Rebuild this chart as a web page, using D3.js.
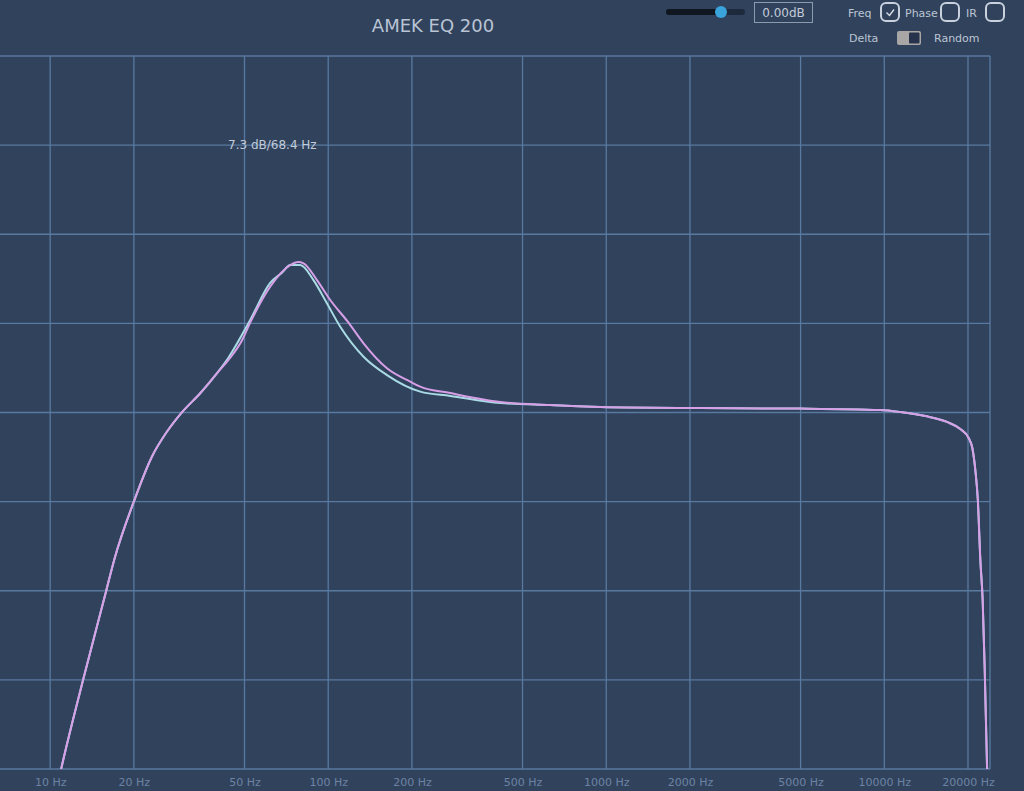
<!DOCTYPE html>
<html><head><meta charset="utf-8">
<script src="https://cdn.jsdelivr.net/npm/d3@7"></script>
<style>
html,body{margin:0;padding:0;background:#31425d;overflow:hidden;}
svg{display:block;}
text{font-family:"DejaVu Sans",Verdana,sans-serif;}
</style></head>
<body>
<svg id="chart" width="1024" height="791"></svg>
<script>
// ---- data ----
const title = "AMEK EQ 200";
const readout = "7.3 dB/68.4 Hz";
const xTicks = [10, 20, 50, 100, 200, 500, 1000, 2000, 5000, 10000, 20000];
const xTickLabels = ["10 Hz","20 Hz","50 Hz","100 Hz","200 Hz","500 Hz","1000 Hz","2000 Hz","5000 Hz","10000 Hz","20000 Hz"];
const yGrid = [-15, -10, -5, 0, 5, 10, 15];

// pink series (frequency Hz, gain dB)
const pinkFreq = [10.6, 10.93, 13.11, 15.90, 16.99, 19.93, 23.22, 26.29, 29.77, 34.64, 39.78, 43.80, 49.05, 52.41, 61.84, 72.99, 78.0, 81.5, 91.1, 101.7, 118.3, 134.0, 162.7, 197.2, 214.3, 274.8, 415.6, 629, 951.5, 2178, 4987, 9674, 11418, 14046, 16809, 18770, 20107, 20733, 21255, 21700, 22155, 22583, 22960, 23420, 23800];
const pinkDb   = [-21.0, -20.06, -15.05, -10.01, -8.27, -5.06, -2.48, -1.08, 0.01, 1.08, 2.20, 2.95, 4.07, 5.04, 7.06, 8.27, 8.44, 8.37, 7.43, 6.31, 5.04, 3.88, 2.48, 1.73, 1.45, 1.09, 0.59, 0.42, 0.31, 0.25, 0.22, 0.14, 0.03, -0.20, -0.53, -0.93, -1.43, -1.99, -3.23, -4.91, -8.27, -10.52, -14.26, -19.87, -23.0];

// cyan series (frequency Hz, gain dB)
const cyanFreq = [10.6, 10.93, 13.11, 15.90, 16.99, 19.93, 23.22, 26.29, 29.77, 34.64, 39.78, 43.69, 52.41, 61.84, 68.17, 72.99, 79.3, 88.5, 98.9, 110.5, 134.0, 162.7, 214.3, 274.8, 415.6, 629, 951.5, 2178, 4987, 9674, 11418, 14046, 16809, 18770, 20107, 20733, 21255, 21700, 22155, 22583, 22960, 23420, 23800];
const cyanDb   = [-21.0, -20.06, -15.05, -10.01, -8.27, -5.06, -2.48, -1.08, 0.01, 1.08, 2.20, 3.06, 5.19, 7.27, 7.84, 8.27, 8.27, 7.43, 6.13, 4.81, 3.13, 2.10, 1.17, 0.93, 0.53, 0.42, 0.31, 0.25, 0.22, 0.14, 0.03, -0.20, -0.53, -0.93, -1.43, -1.99, -3.23, -4.91, -8.27, -10.52, -14.26, -19.87, -23.0];

// ---- chart ----
const svg = d3.select("#chart");
const pL = 0, pR = 990, pT = 56, pB = 769;
const x = d3.scaleLog().domain([6.6, 24000]).range([pL, pR]);
const y = d3.scaleLinear().domain([-20, 20]).range([pB, pT]);
const gridColor = "#587aa0";

svg.append("defs").append("clipPath").attr("id","plotclip")
  .append("rect").attr("x",pL).attr("y",pT).attr("width",pR-pL).attr("height",pB-pT);

const grid = svg.append("g");
grid.selectAll("line.h").data([20, ...yGrid]).enter().append("line")
  .attr("x1", pL).attr("x2", pR)
  .attr("y1", d => y(d)).attr("y2", d => y(d))
  .attr("stroke", gridColor).attr("stroke-width", 1.3);
grid.selectAll("line.v").data(xTicks).enter().append("line")
  .attr("x1", d => x(d)).attr("x2", d => x(d))
  .attr("y1", pT).attr("y2", pB)
  .attr("stroke", gridColor).attr("stroke-width", 1.3);
grid.append("line").attr("x1", pR).attr("x2", pR).attr("y1", pT).attr("y2", pB)
  .attr("stroke", gridColor).attr("stroke-width", 1.3);

const xAxis = d3.axisBottom(x).tickValues(xTicks)
  .tickFormat((d,i) => xTickLabels[i]).tickSize(0).tickPadding(9);
const ax = svg.append("g").attr("transform", `translate(0,${pB})`).call(xAxis);
ax.select(".domain").attr("stroke", gridColor).attr("stroke-width", 1.3).attr("d", `M${pL},0H${pR}`);
ax.selectAll("text").attr("fill", "#6c84a3").attr("font-size", 11)
  .attr("font-family", '"DejaVu Sans",Verdana,sans-serif');

const line = d3.line().x(d => x(d[0])).y(d => y(d[1])).curve(d3.curveMonotoneX);
const plot = svg.append("g").attr("clip-path","url(#plotclip)");
plot.append("path").datum(cyanFreq.map((f,i)=>[f,cyanDb[i]]))
  .attr("d", line).attr("fill","none").attr("stroke","#a9dbe4").attr("stroke-width",2);
plot.append("path").datum(pinkFreq.map((f,i)=>[f,pinkDb[i]]))
  .attr("d", line).attr("fill","none").attr("stroke","#d69fe6").attr("stroke-width",2);

svg.append("text").attr("x", 228).attr("y", 149).text(readout)
  .attr("fill", "#c2cbd8").attr("font-size", 12);

svg.append("text").attr("x", 433).attr("y", 32).attr("text-anchor","middle").text(title)
  .attr("fill", "#b9c4d4").attr("font-size", 18);

const ctl = svg.append("g");
ctl.append("rect").attr("x",666).attr("y",9).attr("width",79).attr("height",6).attr("rx",3).attr("fill","#1e2a3b");
ctl.append("rect").attr("x",666).attr("y",9).attr("width",55).attr("height",6).attr("rx",3).attr("fill","#10161f");
ctl.append("circle").attr("cx",721).attr("cy",12).attr("r",6).attr("fill","#3ba3dc");
ctl.append("rect").attr("x",754.5).attr("y",2.5).attr("width",58).attr("height",20)
  .attr("fill","none").attr("stroke","#8c9aae").attr("stroke-width",1);
ctl.append("text").attr("x",783.5).attr("y",17).attr("text-anchor","middle").text("0.00dB")
  .attr("fill","#c3ccd8").attr("font-size",12);

const labelColor = "#bcc6d3";
ctl.append("text").attr("x",848).attr("y",17).text("Freq").attr("fill",labelColor).attr("font-size",11);
ctl.append("text").attr("x",905).attr("y",17).text("Phase").attr("fill",labelColor).attr("font-size",11);
ctl.append("text").attr("x",966).attr("y",17).text("IR").attr("fill",labelColor).attr("font-size",11);
[881, 941, 986].forEach(cx => {
  ctl.append("rect").attr("x",cx).attr("y",3).attr("width",18).attr("height",18).attr("rx",5)
    .attr("fill","none").attr("stroke","#c8d1dd").attr("stroke-width",2);
});
ctl.append("path").attr("d","M886.5,12.5 L889.5,15.5 L894,9.5").attr("fill","none")
  .attr("stroke","#d8dee8").attr("stroke-width",1.4);

ctl.append("text").attr("x",849).attr("y",42).text("Delta").attr("fill",labelColor).attr("font-size",11);
ctl.append("rect").attr("x",897).attr("y",31).attr("width",24).attr("height",14).attr("rx",2).attr("fill","#a9a7a6");
ctl.append("rect").attr("x",909).attr("y",32.5).attr("width",10.5).attr("height",11).attr("rx",1).attr("fill","#27334a");
ctl.append("text").attr("x",934).attr("y",42).text("Random").attr("fill",labelColor).attr("font-size",11);
</script>
</body></html>
